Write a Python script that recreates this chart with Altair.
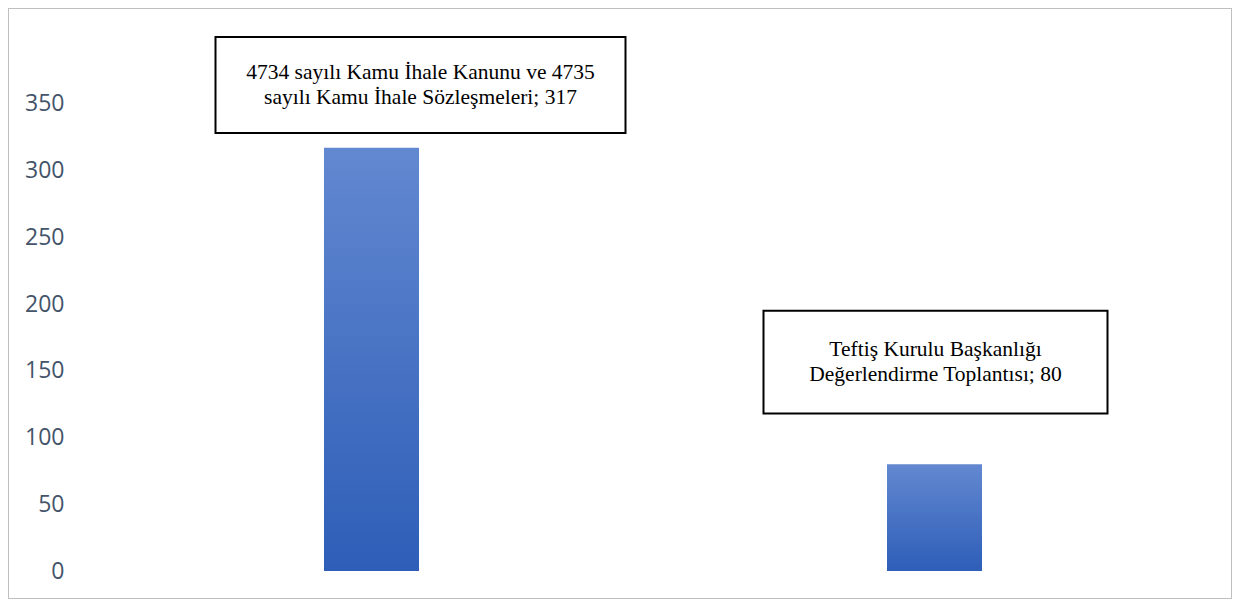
import altair as alt
import pandas as pd

# ---- data ----
categories = [
    "4734 sayılı Kamu İhale Kanunu ve 4735 sayılı Kamu İhale Sözleşmeleri",
    "Teftiş Kurulu Başkanlığı Değerlendirme Toplantısı",
]
values = [317, 80]
label_lines = [
    ["4734 sayılı Kamu İhale Kanunu ve 4735", "sayılı Kamu İhale Sözleşmeleri; 317"],
    ["Teftiş Kurulu Başkanlığı", "Değerlendirme Toplantısı; 80"],
]
y_ticks = [0, 50, 100, 150, 200, 250, 300, 350]

# ---- label box layout (in y data units, x pixel offset / width) ----
box_y_top = [400, 195]
box_y_bottom = [328, 118]
box_width_px = [410, 344]
box_dx_px = [49, 1]

df = pd.DataFrame({"cat": categories, "value": values})

x_enc = alt.X("cat:N", sort=categories, axis=None,
              scale=alt.Scale(paddingInner=0, paddingOuter=0))
y_scale = alt.Scale(domain=[0, 400], nice=False)

bars = alt.Chart(df).mark_bar(
    size=95,
    color=alt.Gradient(
        gradient="linear", x1=0, y1=0, x2=0, y2=1,
        stops=[alt.GradientStop(color="#6288D0", offset=0),
               alt.GradientStop(color="#2E5EB8", offset=1)],
    ),
).encode(
    x=x_enc,
    y=alt.Y("value:Q", scale=y_scale,
            axis=alt.Axis(values=y_ticks, grid=False, domain=False, ticks=False,
                          labelPadding=26, labelFont="Open Sans", labelFontSize=23,
                          labelColor="#44546A", title=None)),
)

layers = [bars]
for i, cat in enumerate(categories):
    row = pd.DataFrame({
        "cat": [cat],
        "top": [box_y_top[i]],
        "bottom": [box_y_bottom[i]],
        "mid": [(box_y_top[i] + box_y_bottom[i]) / 2],
        "label": [label_lines[i]],
    })
    box = alt.Chart(row).mark_bar(
        size=box_width_px[i], xOffset=box_dx_px[i],
        fill="white", stroke="black", strokeWidth=2,
    ).encode(x=x_enc, y=alt.Y("top:Q", scale=y_scale), y2="bottom:Q")
    txt = alt.Chart(row).mark_text(
        dx=box_dx_px[i], dy=-12, font="Liberation Serif", fontSize=21.5, lineHeight=25,
        color="black", align="center", baseline="middle",
    ).encode(x=x_enc, y=alt.Y("mid:Q", scale=y_scale), text="label")
    layers += [box, txt]

frame = alt.Chart(df).mark_rect(
    fillOpacity=0, stroke="#BFBFBF", strokeWidth=1
).encode(
    x=alt.value(-81.5), x2=alt.value(1141.5),
    y=alt.value(-28.5), y2=alt.value(561.5),
)
layers.append(frame)

chart = alt.layer(*layers).properties(
    width=1126, height=534,
    padding={"left": 82, "top": 29, "right": 16, "bottom": 29},
    autosize=alt.AutoSizeParams(type="none"),
    background="white",
).configure_view(stroke=None)

chart.save("out.html", embed_options={"renderer": "svg", "actions": False})
